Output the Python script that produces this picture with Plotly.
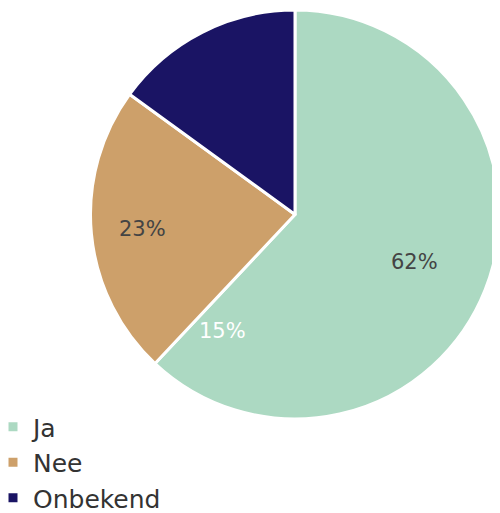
import math
import plotly.graph_objects as go

labels = ["Ja", "Nee", "Onbekend"]
values = [62, 23, 15]
colors = ["#acd9c2", "#cda06a", "#1a1464"]

W, H = 500, 513
OFF = 8  # page body margin of the rendered html
cx, cy, R = 295 - OFF, 214.5 - OFF, 204.5
FONT = "DejaVu Sans"

fig = go.Figure(go.Pie(
    labels=labels,
    values=values,
    sort=False,
    direction="clockwise",
    rotation=0,
    marker=dict(colors=colors, line=dict(color="#ffffff", width=3)),
    textinfo="none",
    hoverinfo="label+percent",
    domain=dict(x=[(cx - R) / W, (cx + R) / W], y=[1 - (cy + R) / H, 1 - (cy - R) / H]),
))

# percentage labels placed at each slice's mid-angle
total = sum(values)
radius_frac = [0.63, 0.75]
start = 0.0
for i in range(2):
    frac = values[i] / total
    mid = (start + frac / 2) * 2 * math.pi
    start += frac
    r = radius_frac[i] * R
    px = cx + r * math.sin(mid)
    py = cy - r * math.cos(mid)
    fig.add_annotation(
        x=px / W, y=1 - py / H, xref="paper", yref="paper",
        xanchor="center", yanchor="middle",
        text=f"{values[i]}%", showarrow=False,
        font=dict(family=FONT, size=21, color="#444444"),
    )

# misplaced label of the reference for the third slice
fig.add_annotation(
    x=(222 - OFF) / W, y=1 - (331 - OFF) / H, xref="paper", yref="paper",
    xanchor="center", yanchor="middle",
    text=f"{values[2]}%", showarrow=False,
    font=dict(family=FONT, size=21, color="#ffffff"),
)

fig.update_layout(
    width=W, height=H,
    margin=dict(l=0, r=0, t=0, b=0, autoexpand=False),
    paper_bgcolor="#ffffff",
    plot_bgcolor="#ffffff",
    showlegend=True,
    legend=dict(
        x=-0.03, y=1 - 396 / H, xanchor="left", yanchor="top",
        font=dict(family=FONT, size=25, color="#333333"),
        bgcolor="rgba(0,0,0,0)",
    ),
)

fig.write_html("out.html")
